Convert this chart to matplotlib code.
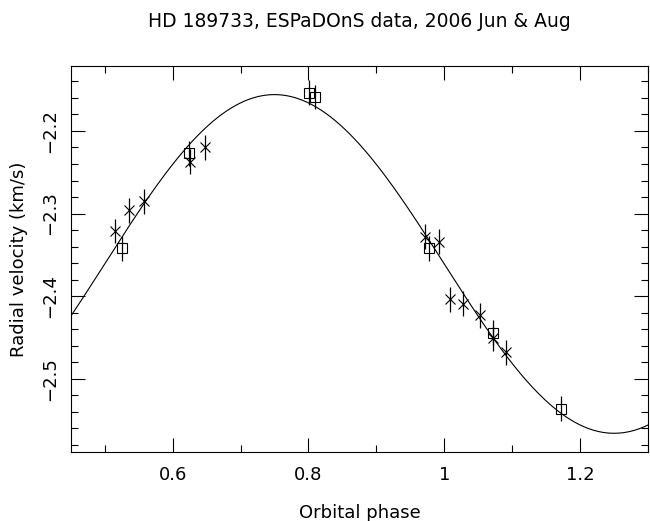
import numpy as np
import matplotlib
matplotlib.use('Agg')
import matplotlib.pyplot as plt
from matplotlib.ticker import MultipleLocator, FuncFormatter

# measurements (phase, RV in km/s), two instruments settings
cross_phase = [0.515, 0.536, 0.558, 0.625, 0.647, 0.972, 0.992, 1.009, 1.028, 1.052, 1.072, 1.091]
cross_rv = [-2.321, -2.296, -2.285, -2.237, -2.220, -2.328, -2.334, -2.404, -2.409, -2.423, -2.451, -2.468]
cross_err = [0.015] * 12

square_phase = [0.526, 0.624, 0.801, 0.810, 0.977, 1.071, 1.172]
square_rv = [-2.342, -2.227, -2.1535, -2.159, -2.342, -2.444, -2.536]
square_err = [0.015] * 7

# orbit model
gamma = -2.361
K = 0.205

plt.rcParams['font.family'] = 'DejaVu Sans'
fig = plt.figure(figsize=(6.5, 5.21), dpi=100)
ax = fig.add_axes([0.1088, 0.1319, 0.8882, 0.742])

ph = np.linspace(0.45, 1.3, 500)
ax.plot(ph, gamma - K * np.sin(2 * np.pi * ph), color='black', lw=0.8)

ax.errorbar(cross_phase, cross_rv, yerr=cross_err, fmt='x', color='black',
            ms=7, mew=0.8, elinewidth=0.9, capsize=0)
ax.errorbar(square_phase, square_rv, yerr=square_err, fmt='s', color='black',
            mfc='none', ms=7, mew=0.8, elinewidth=0.9, capsize=0)

ax.set_xlim(0.45, 1.3)
ax.set_ylim(-2.589, -2.121)

ax.xaxis.set_major_locator(MultipleLocator(0.2))
ax.xaxis.set_minor_locator(MultipleLocator(0.1))
ax.yaxis.set_major_locator(MultipleLocator(0.1))
ax.yaxis.set_minor_locator(MultipleLocator(0.02))
ax.xaxis.set_major_formatter(FuncFormatter(lambda v, p: '%g' % round(v, 2)))
ax.yaxis.set_major_formatter(FuncFormatter(lambda v, p: ('%g' % round(v, 2)).replace('-', '\u2212')))

ax.tick_params(which='both', direction='in', top=True, right=True, width=0.8, labelsize=13)
ax.tick_params(which='major', length=10)
ax.tick_params(which='minor', length=5)
ax.tick_params(axis='x', pad=10)
ax.tick_params(axis='y', pad=8)
for lab in ax.get_yticklabels():
    lab.set_rotation(90)
    lab.set_va('center')
for s in ax.spines.values():
    s.set_linewidth(0.8)

ax.set_xlabel('Orbital phase', fontsize=13, labelpad=14)
ax.set_ylabel('Radial velocity (km/s)', fontsize=13, labelpad=10)
ax.set_title('HD 189733, ESPaDOnS data, 2006 Jun & Aug', fontsize=13.5, pad=28)

fig.savefig('out.png', dpi=100)
